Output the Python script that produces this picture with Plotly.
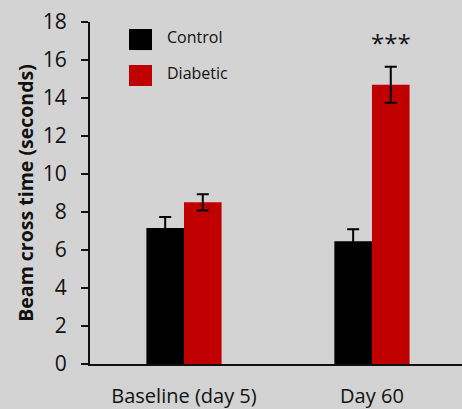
import plotly.graph_objects as go

categories = ["Baseline (day 5)", "Day 60"]
series_names = ["Control", "Diabetic"]
control_values = [7.16, 6.46]
control_errors = [0.58, 0.63]
diabetic_values = [8.51, 14.70]
diabetic_errors = [0.43, 0.95]
y_ticks = [0, 2, 4, 6, 8, 10, 12, 14, 16, 18]
significance = ["", "***"]

colors = {"Control": "#000000", "Diabetic": "#C00000"}
FONT = "Open Sans"
BG = "#d3d3d3"

fig = go.Figure()
for name, vals, errs in [("Control", control_values, control_errors),
                         ("Diabetic", diabetic_values, diabetic_errors)]:
    fig.add_trace(go.Bar(
        name=name, x=categories, y=vals,
        marker=dict(color=colors[name], line=dict(width=0)),
        error_y=dict(type="data", array=errs, visible=True,
                     color="#000000", thickness=2, width=6),
        showlegend=False,
    ))

# significance markers above diabetic bars (group offset of 2nd series)
bar_w = 0.2
for i, s in enumerate(significance):
    if s:
        fig.add_annotation(
            x=i + bar_w / 2, y=16.9, xref="x", yref="y", text=s,
            showarrow=False, font=dict(family=FONT, size=24, color="#111111"),
        )

# custom legend (large swatches)
legend_rows = [(series_names[0], 0.9795, 0.918), (series_names[1], 0.8743, 0.8129)]
for name, y1, y0 in legend_rows:
    fig.add_shape(type="rect", xref="paper", yref="paper",
                  x0=0.1048, x1=0.1667, y0=y0, y1=y1,
                  fillcolor=colors[name], line=dict(width=0))
    fig.add_annotation(x=0.202, y=(y0 + y1) / 2 + 0.006, xref="paper", yref="paper",
                       text=name, showarrow=False, xanchor="left", yanchor="middle",
                       font=dict(family=FONT, size=16, color="#111111"))

fig.update_layout(
    width=462, height=409,
    margin=dict(l=90, r=0, t=22, b=45),
    paper_bgcolor=BG, plot_bgcolor=BG,
    barmode="group", bargap=0.6, bargroupgap=0,
    font=dict(family=FONT, color="#111111"),
    xaxis=dict(
        range=[-0.5, 1.479], showgrid=False, zeroline=False, automargin=False,
        showline=True, linecolor="#111111", linewidth=2,
        ticks="outside", ticklen=13, tickcolor="rgba(0,0,0,0)",
        tickfont=dict(family=FONT, size=20, color="#111111"),
    ),
    yaxis=dict(
        range=[0, 18], tickvals=y_ticks, showgrid=False, zeroline=False, automargin=False,
        showline=True, linecolor="#111111", linewidth=2,
        ticks="outside", ticklen=7, tickwidth=1.5, tickcolor="#111111",
        ticklabelstandoff=10,
        tickfont=dict(family=FONT, size=21, color="#111111"),
        title=dict(text="<b>Beam cross time (seconds)</b>",
                   font=dict(family=FONT, size=19.5, color="#111111"),
                   standoff=4),
    ),
)

fig.write_html(
    "out.html",
    config={"displayModeBar": False},
    post_script="document.body.style.margin='0';document.body.style.background='%s';" % BG,
)
